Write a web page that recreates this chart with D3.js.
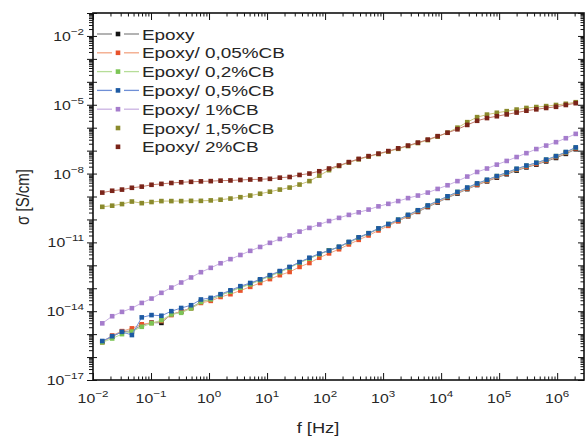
<!DOCTYPE html>
<html>
<head>
<meta charset="utf-8">
<script src="https://cdn.jsdelivr.net/npm/d3@7"></script>
<style>
  body { margin: 0; background: #fff; }
  svg { display: block; }
  text { font-family: "Liberation Sans", Arial, Helvetica, sans-serif; fill: #262626; }
</style>
</head>
<body>
<svg id="chart" width="586" height="439"></svg>
<script>
// Measurement frequencies (Hz)
const freqHz = [
  0.01445, 0.0214, 0.0316, 0.0468, 0.0692, 0.102, 0.151, 0.224, 0.331, 0.490,
  0.724, 1.07, 1.58, 2.34, 3.47, 5.13, 7.59, 11.2, 16.6, 24.5,
  36.3, 53.7, 79.4, 117, 174, 257, 380, 562, 832, 1230,
  1820, 2690, 3980, 5890, 8710, 12900, 19100, 28200, 41700, 61700,
  91200, 135000, 200000, 295000, 437000, 646000, 955000, 1410000, 2090000
];

// Conductivity sigma (S/cm) per sample
const sigmaEpoxy = [
  4.68e-16, 7.76e-16, 1.29e-15, 1.38e-15, 2.45e-15, 3.16e-15, 3.09e-15, 7.41e-15, 9.55e-15, 1.41e-14,
  2.57e-14, 3.31e-14, 5.01e-14, 7.41e-14, 1.10e-13, 1.58e-13, 2.34e-13, 3.47e-13, 5.25e-13, 8.13e-13,
  1.35e-12, 2.00e-12, 3.09e-12, 4.47e-12, 6.17e-12, 1.00e-11, 1.58e-11, 2.40e-11, 3.89e-11, 6.03e-11,
  8.51e-11, 1.38e-10, 2.14e-10, 3.47e-10, 5.50e-10, 8.71e-10, 1.35e-9, 2.09e-9, 3.16e-9, 4.57e-9,
  6.61e-9, 9.33e-9, 1.35e-8, 1.86e-8, 2.45e-8, 3.39e-8, 4.79e-8, 7.24e-8, 1.15e-7
];
const sigmaCB005 = [
  4.37e-16, 8.71e-16, 1.35e-15, 1.78e-15, 2.69e-15, 3.09e-15, 3.72e-15, 6.76e-15, 1.00e-14, 1.32e-14,
  2.29e-14, 2.82e-14, 4.17e-14, 5.50e-14, 7.94e-14, 1.15e-13, 1.70e-13, 2.51e-13, 3.72e-13, 5.13e-13,
  8.51e-13, 1.26e-12, 2.14e-12, 3.31e-12, 5.01e-12, 8.13e-12, 1.29e-11, 2.00e-11, 3.31e-11, 5.25e-11,
  8.51e-11, 1.41e-10, 2.24e-10, 3.72e-10, 5.89e-10, 9.33e-10, 1.45e-9, 2.24e-9, 3.31e-9, 4.79e-9,
  7.08e-9, 1.02e-8, 1.48e-8, 2.00e-8, 2.63e-8, 3.72e-8, 5.25e-8, 7.94e-8, 1.26e-7
];
const sigmaCB02 = [
  4.37e-16, 6.46e-16, 1.00e-15, 1.29e-15, 2.09e-15, 2.95e-15, 4.07e-15, 7.24e-15, 8.51e-15, 1.32e-14,
  2.51e-14, 3.31e-14, 5.01e-14, 7.08e-14, 1.05e-13, 1.48e-13, 2.24e-13, 3.31e-13, 5.01e-13, 7.76e-13,
  1.29e-12, 1.95e-12, 3.02e-12, 4.47e-12, 6.31e-12, 1.02e-11, 1.62e-11, 2.51e-11, 3.98e-11, 6.31e-11,
  9.77e-11, 1.55e-10, 2.51e-10, 3.98e-10, 6.46e-10, 1.00e-9, 1.58e-9, 2.40e-9, 3.72e-9, 5.25e-9,
  7.76e-9, 1.10e-8, 1.58e-8, 2.19e-8, 2.95e-8, 3.98e-8, 5.75e-8, 8.51e-8, 1.35e-7
];
const sigmaCB05 = [
  5.01e-16, 8.13e-16, 1.26e-15, 9.12e-16, 5.37e-15, 6.76e-15, 6.31e-15, 1.00e-14, 1.38e-14, 1.82e-14,
  3.24e-14, 3.80e-14, 5.50e-14, 8.13e-14, 1.23e-13, 1.70e-13, 2.45e-13, 3.72e-13, 5.62e-13, 8.51e-13,
  1.38e-12, 2.14e-12, 3.24e-12, 4.37e-12, 6.46e-12, 1.05e-11, 1.66e-11, 2.51e-11, 4.07e-11, 6.31e-11,
  9.77e-11, 1.58e-10, 2.51e-10, 4.07e-10, 6.46e-10, 1.02e-9, 1.58e-9, 2.45e-9, 3.72e-9, 5.37e-9,
  7.76e-9, 1.12e-8, 1.62e-8, 2.24e-8, 2.95e-8, 4.07e-8, 5.75e-8, 8.71e-8, 1.38e-7
];
const sigmaCB1 = [
  2.95e-15, 6.03e-15, 9.33e-15, 1.35e-14, 2.29e-14, 3.55e-14, 6.31e-14, 1.07e-13, 1.78e-13, 2.95e-13,
  5.01e-13, 7.76e-13, 1.23e-12, 1.86e-12, 2.82e-12, 4.27e-12, 6.31e-12, 9.55e-12, 1.41e-11, 2.00e-11,
  2.95e-11, 4.27e-11, 6.03e-11, 8.51e-11, 1.17e-10, 1.58e-10, 2.04e-10, 2.69e-10, 3.72e-10, 4.79e-10,
  6.31e-10, 8.51e-10, 1.10e-9, 1.48e-9, 2.14e-9, 3.09e-9, 4.68e-9, 7.41e-9, 1.17e-8, 1.66e-8,
  2.45e-8, 3.55e-8, 5.25e-8, 7.76e-8, 1.17e-7, 1.66e-7, 2.34e-7, 3.47e-7, 5.37e-7
];
const sigmaCB15 = [
  3.55e-10, 3.98e-10, 4.68e-10, 6.03e-10, 5.13e-10, 5.75e-10, 6.31e-10, 6.31e-10, 6.31e-10, 6.46e-10,
  6.46e-10, 6.76e-10, 7.24e-10, 8.13e-10, 9.33e-10, 1.10e-9, 1.32e-9, 1.62e-9, 2.00e-9, 2.45e-9,
  3.31e-9, 4.68e-9, 8.13e-9, 1.41e-8, 2.14e-8, 3.02e-8, 4.17e-8, 5.50e-8, 7.08e-8, 9.12e-8,
  1.20e-7, 1.58e-7, 2.14e-7, 2.88e-7, 4.07e-7, 6.03e-7, 1.00e-6, 1.74e-6, 2.88e-6, 3.72e-6,
  4.47e-6, 5.25e-6, 6.17e-6, 7.24e-6, 7.94e-6, 8.71e-6, 9.77e-6, 1.10e-5, 1.29e-5
];
const sigmaCB2 = [
  1.48e-9, 1.78e-9, 2.00e-9, 2.40e-9, 2.69e-9, 3.24e-9, 3.55e-9, 3.89e-9, 4.17e-9, 4.37e-9,
  4.57e-9, 4.68e-9, 4.90e-9, 5.01e-9, 5.25e-9, 5.50e-9, 5.62e-9, 5.89e-9, 6.61e-9, 7.08e-9,
  8.71e-9, 1.00e-8, 1.26e-8, 1.66e-8, 2.24e-8, 3.16e-8, 4.37e-8, 5.75e-8, 7.41e-8, 9.55e-8,
  1.26e-7, 1.66e-7, 2.24e-7, 3.02e-7, 4.27e-7, 6.03e-7, 8.51e-7, 1.32e-6, 2.00e-6, 2.63e-6,
  3.16e-6, 3.80e-6, 4.57e-6, 5.50e-6, 6.31e-6, 7.24e-6, 8.13e-6, 9.77e-6, 1.17e-5
];

const seriesNames = ["Epoxy", "Epoxy/ 0,05%CB", "Epoxy/ 0,2%CB", "Epoxy/ 0,5%CB",
                     "Epoxy/ 1%CB", "Epoxy/ 1,5%CB", "Epoxy/ 2%CB"];
const seriesValues = [sigmaEpoxy, sigmaCB005, sigmaCB02, sigmaCB05, sigmaCB1, sigmaCB15, sigmaCB2];
const markerColors = ["#141414", "#e8532c", "#7cc555", "#1d5aa3", "#a57ccc", "#8a8a2c", "#7a2419"];
const lineColors   = ["#8a8a8a", "#f2a583", "#b6dd98", "#6f8fd6", "#c9b1e2", "#c9c27a", "#c27b6c"];
const legendHasLine = [true, true, true, true, true, false, false];

const xTickExponents = [-2, -1, 0, 1, 2, 3, 4, 5, 6];
const yTickExponents = [-2, -5, -8, -11, -14, -17];
const xAxisTitle = "f [Hz]";
const yAxisTitle = "σ [S/cm]";

// ---- layout ----
const SX = 1.22;             // horizontal text stretch
const plot = { left: 93, right: 584, top: 13, bottom: 380 };
const svg = d3.select("#chart");

const x = d3.scaleLog().domain([1e-2, 2.9e6]).range([plot.left, plot.right]);
const y = d3.scaleLog().domain([1e-17, 1e-1]).range([plot.bottom, plot.top]);

function decadeTicks(scale, minor) {
  const [d0, d1] = scale.domain().map(Math.log10);
  const out = [];
  for (let e = Math.floor(d0); e <= Math.ceil(d1); e++) {
    const ks = minor ? [2, 3, 4, 5, 6, 7, 8, 9] : [1];
    ks.forEach(k => {
      const v = k * Math.pow(10, e);
      const lv = Math.log10(v);
      if (lv >= d0 - 1e-9 && lv <= d1 + 1e-9) out.push(v);
    });
  }
  return out;
}
const xMajor = decadeTicks(x, false), xMinor = decadeTicks(x, true);
const yMajor = decadeTicks(y, false), yMinor = decadeTicks(y, true);

function tickAxis(axis, values, size, transform) {
  const g = svg.append("g").attr("transform", transform)
    .call(axis.tickValues(values).tickSize(size).tickFormat(""));
  g.select(".domain").remove();
  g.selectAll(".tick line").attr("stroke", "#111").attr("stroke-width", 1);
  return g;
}
// bottom (ticks inward)
tickAxis(d3.axisTop(x), xMajor, 7, `translate(0,${plot.bottom})`);
tickAxis(d3.axisTop(x), xMinor, 3.5, `translate(0,${plot.bottom})`);
// top (ticks inward)
tickAxis(d3.axisBottom(x), xMajor, 7, `translate(0,${plot.top})`);
tickAxis(d3.axisBottom(x), xMinor, 3.5, `translate(0,${plot.top})`);
// left (ticks crossing the axis)
tickAxis(d3.axisLeft(y), yMajor, 6, `translate(${plot.left},0)`);
tickAxis(d3.axisRight(y), yMajor, 4, `translate(${plot.left},0)`);
tickAxis(d3.axisLeft(y), yMinor, 4, `translate(${plot.left},0)`);
// right (ticks inward)
tickAxis(d3.axisLeft(y), yMajor, 6, `translate(${plot.right},0)`);
tickAxis(d3.axisLeft(y), yMinor, 3.5, `translate(${plot.right},0)`);

// frame
svg.append("rect")
  .attr("x", plot.left).attr("y", plot.top)
  .attr("width", plot.right - plot.left).attr("height", plot.bottom - plot.top)
  .attr("fill", "none").attr("stroke", "#111").attr("stroke-width", 1.6);

// tick labels (10^n)
function powerLabel(g, exp, anchor) {
  const t = g.append("text").attr("text-anchor", anchor).style("font-size", "13px");
  t.append("tspan").text("10");
  t.append("tspan").attr("dy", -6).style("font-size", "9.5px").text(exp < 0 ? "\u2212" + (-exp) : String(exp));
  return t;
}
xTickExponents.forEach(e => {
  const g = svg.append("g")
    .attr("transform", `translate(${x(Math.pow(10, e))},403) scale(${SX},1)`);
  powerLabel(g, e, "middle");
});
yTickExponents.forEach(e => {
  const g = svg.append("g")
    .attr("transform", `translate(84,${y(Math.pow(10, e)) + 5}) scale(${SX},1)`);
  powerLabel(g, e, "end");
});

// axis titles
svg.append("text")
  .attr("transform", `translate(318,433) scale(${SX},1)`)
  .attr("text-anchor", "middle").style("font-size", "15px")
  .text(xAxisTitle);
svg.append("text")
  .attr("transform", `translate(29,197) rotate(-90) scale(1,${SX})`)
  .attr("text-anchor", "middle").style("font-size", "15px")
  .text(yAxisTitle);

// series
const MS = 4.6;
const drawOrder = [5, 6, 4, 0, 1, 2, 3];
const line = d3.line().x(d => x(d[0])).y(d => y(d[1]));
const plotArea = svg.append("g");
drawOrder.forEach(i => {
  const pts = freqHz.map((f, k) => [f, seriesValues[i][k]]);
  plotArea.append("path")
    .attr("d", line(pts))
    .attr("fill", "none").attr("stroke", lineColors[i]).attr("stroke-width", 1);
  plotArea.append("g").selectAll("rect").data(pts).join("rect")
    .attr("x", d => x(d[0]) - MS / 2).attr("y", d => y(d[1]) - MS / 2)
    .attr("width", MS).attr("height", MS)
    .attr("fill", markerColors[i]);
});

// legend
const legend = svg.append("g");
seriesNames.forEach((name, i) => {
  const cy = 34 + i * 18.8;
  if (legendHasLine[i]) {
    legend.append("line").attr("x1", 97).attr("x2", 112).attr("y1", cy).attr("y2", cy)
      .attr("stroke", lineColors[i]).attr("stroke-width", 1.3);
    legend.append("line").attr("x1", 124).attr("x2", 139).attr("y1", cy).attr("y2", cy)
      .attr("stroke", lineColors[i]).attr("stroke-width", 1.3);
  }
  legend.append("rect").attr("x", 118 - MS / 2).attr("y", cy - MS / 2)
    .attr("width", MS).attr("height", MS).attr("fill", markerColors[i]);
  legend.append("text")
    .attr("transform", `translate(142,${cy + 5.5}) scale(${SX},1)`)
    .style("font-size", "15.5px")
    .text(name);
});
</script>
</body>
</html>
